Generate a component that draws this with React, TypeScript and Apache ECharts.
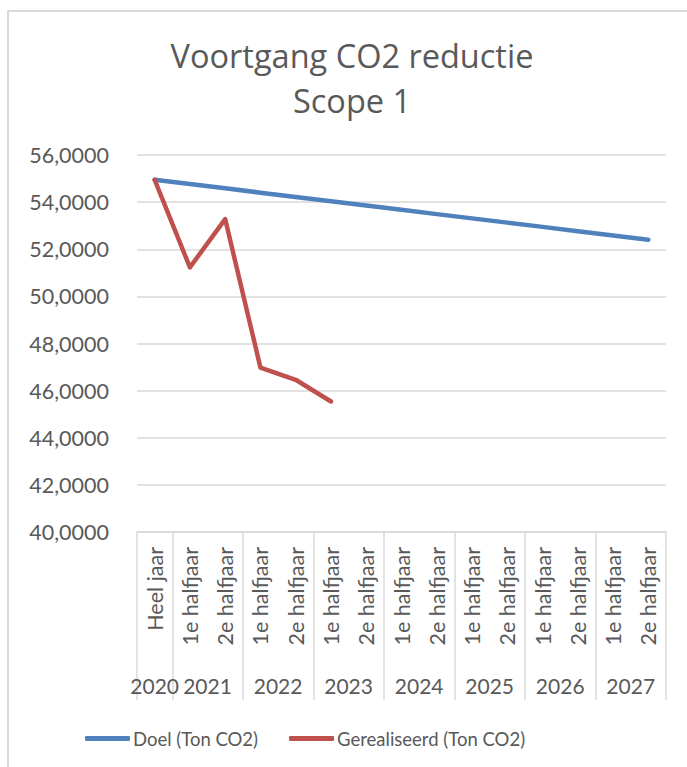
import React, { useEffect, useRef } from "react";
import * as echarts from "echarts";

const categories = [
  "Heel jaar",
  "1e halfjaar", "2e halfjaar",
  "1e halfjaar", "2e halfjaar",
  "1e halfjaar", "2e halfjaar",
  "1e halfjaar", "2e halfjaar",
  "1e halfjaar", "2e halfjaar",
  "1e halfjaar", "2e halfjaar",
  "1e halfjaar", "2e halfjaar",
];
// year label and its centre position on the category scale (in category units)
const years = ["2020", "2021", "2022", "2023", "2024", "2025", "2026", "2027"];
const yearCenters = [0.5, 2, 4, 6, 8, 10, 12, 14];

const doel = [54.95, 54.77, 54.59, 54.40, 54.22, 54.04, 53.86, 53.68, 53.49, 53.31, 53.13, 52.95, 52.76, 52.58, 52.40];
const gerealiseerd = [54.95, 51.23, 53.28, 46.98, 46.46, 45.54];

const seriesNames = ["Doel (Ton CO2)", "Gerealiseerd (Ton CO2)"];
const titleLines = ["Voortgang CO2 reductie", "Scope 1"];

const FONT = "Lato, 'Open Sans', sans-serif";
const TITLE_FONT = "'Open Sans', sans-serif";
const TXT = "#595959";
const GRID = "#d9d9d9";

export default function App() {
  const ref = useRef<HTMLDivElement>(null);
  useEffect(() => {
    if (!ref.current) return;
    const chart = echarts.init(ref.current, undefined, { renderer: "svg" });
    chart.setOption({
      animation: false,
      backgroundColor: "#ffffff",
      textStyle: { fontFamily: FONT },
      graphic: [
        {
          type: "rect",
          shape: { x: 8, y: 11, width: 720, height: 800 },
          style: { fill: "none", stroke: GRID, lineWidth: 2 },
          silent: true,
        },
        {
          type: "text",
          x: 352,
          y: 55,
          style: {
            text: titleLines[0],
            fontSize: 32.5,
            fontFamily: TITLE_FONT,
            fill: TXT,
            textAlign: "center",
            textVerticalAlign: "middle",
          },
        },
        {
          type: "text",
          x: 352,
          y: 100,
          style: {
            text: titleLines[1],
            fontSize: 32.5,
            fontFamily: TITLE_FONT,
            fill: TXT,
            textAlign: "center",
            textVerticalAlign: "middle",
          },
        },
      ],
      grid: { left: 137, right: 21, top: 155, bottom: 235, containLabel: false },
      legend: {
        left: 80,
        top: 724,
        itemGap: 31,
        itemWidth: 45,
        itemHeight: 5,
        icon: "roundRect",
        textStyle: { fontSize: 18.5, color: TXT, fontFamily: FONT, padding: [0, 0, 0, -2] },
        data: seriesNames,
      },
      xAxis: [
        {
          type: "category",
          data: categories,
          boundaryGap: true,
          axisLine: { show: true, lineStyle: { color: GRID, width: 1.5 } },
          axisTick: {
            show: true,
            length: 168,
            interval: (index: number) => index === 0 || index % 2 === 1,
            lineStyle: { color: GRID, width: 1.5 },
          },
          axisLabel: {
            rotate: 90,
            interval: 0,
            margin: 15,
            fontSize: 21.5,
            color: TXT,
            fontFamily: FONT,
          },
        },
        {
          type: "value",
          position: "bottom",
          offset: 137,
          min: 0,
          max: categories.length,
          interval: 0.5,
          axisLine: { show: false },
          axisTick: { show: false },
          splitLine: { show: false },
          axisLabel: {
            margin: 6,
            fontSize: 21,
            color: TXT,
            fontFamily: FONT,
            showMinLabel: true,
            showMaxLabel: true,
            formatter: (v: number) => {
              const i = yearCenters.indexOf(v);
              return i >= 0 ? years[i] : "";
            },
          },
        },
      ],
      yAxis: {
        type: "value",
        min: 40,
        max: 56,
        interval: 2,
        axisLine: { show: false },
        axisTick: { show: false },
        splitLine: { show: true, lineStyle: { color: GRID, width: 1.5 } },
        axisLabel: {
          margin: 28,
          fontSize: 21.5,
          color: TXT,
          fontFamily: FONT,
          formatter: (v: number) => v.toFixed(4).replace(".", ","),
        },
      },
      series: [
        {
          name: seriesNames[0],
          type: "line",
          data: doel,
          symbol: "none",
          color: "#4f81bd",
          lineStyle: { width: 4.5, color: "#4f81bd", cap: "round", join: "round" },
        },
        {
          name: seriesNames[1],
          type: "line",
          data: gerealiseerd,
          symbol: "none",
          color: "#c0504d",
          lineStyle: { width: 4.5, color: "#c0504d", cap: "round", join: "round" },
        },
      ],
    });
    return () => chart.dispose();
  }, []);
  return (
    <div
      ref={ref}
      style={{ position: "absolute", left: 0, top: 0, width: 687, height: 767 }}
    />
  );
}
